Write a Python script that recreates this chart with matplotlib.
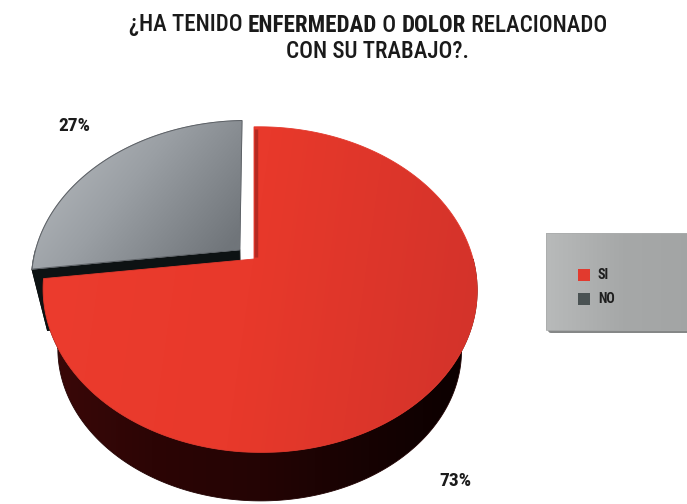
import numpy as np
import matplotlib
matplotlib.use("Agg")
import matplotlib.pyplot as plt
from matplotlib.patches import Polygon, FancyBboxPatch, Rectangle
from matplotlib import font_manager
from matplotlib.colors import to_rgb

# ---------------- data ----------------
categories = ["SI", "NO"]
values = [73, 27]
labels = ["73%", "27%"]
legend_colors = ["#e23a2e", "#4a5253"]
title_line1 = [("¿HA TENIDO ", "medium"), ("ENFERMEDAD", "bold"), (" O ", "medium"),
               ("DOLOR", "bold"), (" RELACIONADO", "medium")]
title_line2 = [("CON SU TRABAJO?.", "medium")]

# ---------------- fonts ----------------
avail = {f.name for f in font_manager.fontManager.ttflist}
FONT = "DejaVu Sans"
for cand in ["Roboto Condensed", "Liberation Sans Narrow", "DejaVu Sans Condensed",
             "Open Sans Condensed", "Roboto", "Liberation Sans"]:
    if cand in avail:
        FONT = cand
        break
plt.rcParams["font.family"] = [FONT, "DejaVu Sans"]

W, H = 687, 504
fig = plt.figure(figsize=(W / 100, H / 100), dpi=100)
ax = fig.add_axes([0, 0, 1, 1])
ax.set_xlim(0, W)
ax.set_ylim(H, 0)
ax.axis("off")

# ---------------- pie geometry (perspective) ----------------
CX, CY = 254.0, 259.0
A, B = 213.0, 157.0
K, KX = 0.188, -0.0277
SB = 0.93        # bottom face shrink (perspective)
DZ = 62.0        # bottom face drop
EXPLODE = [0.0, 0.09]


def proj(X, Y, Z=0.0):
    s = 1.0 / (1.0 + K * Y + KX * X)
    sc = 1.0 - (1.0 - SB) * Z
    return CX + A * X * s * sc, CY - B * Y * s * sc + DZ * Z


def arc(t1, t2, ox, oy, Z=0.0, n=200):
    t = np.linspace(np.radians(t1), np.radians(t2), n)
    x, y = proj(ox + np.cos(t), oy + np.sin(t), Z)
    return np.column_stack([x, y])


def grad_fill(poly_xy, stops, direction, z, edge=True):
    poly = Polygon(poly_xy, closed=True, facecolor="none", edgecolor="none")
    ax.add_patch(poly)
    x0, y0 = poly_xy.min(axis=0)
    x1, y1 = poly_xy.max(axis=0)
    n = 300
    gx, gy = np.meshgrid(np.linspace(0, 1, n), np.linspace(0, 1, n))
    t = np.clip(direction[0] * gx + direction[1] * gy, 0, 1)
    cols = np.array([to_rgb(c) for c in stops])
    pos = np.linspace(0, 1, len(stops))
    img = np.stack([np.interp(t, pos, cols[:, k]) for k in range(3)], axis=-1)
    im = ax.imshow(img, extent=(x0, x1, y1, y0), origin="upper", zorder=z,
                   aspect="auto", interpolation="bilinear")
    im.set_clip_path(poly)
    if edge:
        ax.add_patch(Polygon(poly_xy, closed=True, facecolor="none",
                             edgecolor=cols.mean(axis=0), linewidth=0.6, zorder=z))


total = float(sum(values))
span_grey = 360.0 * values[1] / total

# ---- grey slice (behind, exploded) ----
ga, gb = 90.0, 90.0 + span_grey
mid = np.radians((ga + gb) / 2)
ox, oy = EXPLODE[1] * np.cos(mid), EXPLODE[1] * np.sin(mid)
rx, ry = ox + np.cos(np.radians(gb)), oy + np.sin(np.radians(gb))
cut = [proj(ox, oy, 0), proj(rx, ry, 0), proj(rx, ry, 1), proj(ox, oy, 1)]
ax.add_patch(Polygon(cut, closed=True, facecolor="#0d1213",
                     edgecolor="#0d1213", linewidth=0.8, zorder=2))
wall = np.vstack([arc(180, gb, ox, oy, 0, 30), arc(gb, 180, ox, oy, 1, 30)])
ax.add_patch(Polygon(wall, closed=True, facecolor="#0d1213", edgecolor="#0d1213",
                     linewidth=0.8, zorder=2))
gtop = np.vstack([[proj(ox, oy, 0)], arc(ga, gb, ox, oy, 0, 200)])
grad_fill(gtop, ["#bcc0c4", "#9a9fa4", "#70757a"], (0.7, 0.4), 3)
ax.add_patch(Polygon(gtop, closed=True, facecolor="none", edgecolor="#5d6166",
                     linewidth=0.7, zorder=3))

# ---- red slice ----
ra, rb = gb - 360.0, 90.0
lo, hi = max(ra, -180.0), min(rb, 0.0)
rwall = np.vstack([arc(lo, hi, 0, 0, 0, 300), arc(hi, lo, 0, 0, 1, 300)])
grad_fill(rwall, ["#3c0808", "#2c0505", "#240404", "#160202", "#0a0000"], (1.0, 0.0), 4)
rtop = np.vstack([[proj(0, 0, 0)], arc(ra, rb, 0, 0, 0, 400)])
grad_fill(rtop, ["#ec3c2e", "#e8392b", "#d4332a"], (0.95, 0.1), 5)
# darker strip on the straight edge
ptop, pc = proj(0, 1), proj(0, 0)
ax.plot([ptop[0] + 1.5, pc[0] + 1.5], [ptop[1] + 2, pc[1] - 2],
        color="#b52a22", lw=2.5, zorder=6, solid_capstyle="butt")

# ---------------- percentage labels ----------------
lab_pos = [(455, 481), (74, 126)]
for lbl, (x, y) in zip(labels, lab_pos):
    ax.text(x, y, lbl, ha="center", va="center", fontsize=14, fontweight="bold",
            color="#1b1b1b", zorder=10)

# ---------------- legend ----------------
lx0, ly0, lx1, ly1 = 546, 233, 700, 330
ax.add_patch(FancyBboxPatch((lx0 + 2, ly0 + 3), lx1 - lx0, ly1 - ly0,
                            boxstyle="round,pad=0,rounding_size=3",
                            facecolor="#858787", edgecolor="none", zorder=7))
leg = np.array([[lx0, ly0], [lx1, ly0], [lx1, ly1], [lx0, ly1]], float)
grad_fill(leg, ["#b8baba", "#a6a8a8", "#a2a4a4"], (1.0, 0.0), 8)
for i, (cat, col) in enumerate(zip(categories, legend_colors)):
    yy = 275 + i * 24
    ax.add_patch(Rectangle((578, yy - 6), 12, 12, facecolor=col, edgecolor="none", zorder=9))
    ax.text(598, yy, cat, ha="left", va="center", fontsize=10, fontweight="bold",
            color="#1e1e1e", zorder=9)

# ---------------- title (mixed weights) ----------------
renderer = fig.canvas.get_renderer()


def title_line(parts, cx, base_y, size):
    texts, widths = [], []
    for s, w in parts:
        t = ax.text(0, base_y, s, ha="left", va="baseline", fontsize=size,
                    fontweight=w, color="#1a1a1a", zorder=10)
        texts.append(t)
        widths.append(t.get_window_extent(renderer).width)
    x = cx - sum(widths) / 2
    for t, wdt in zip(texts, widths):
        t.set_x(x)
        x += wdt


title_line(title_line1, 368, 31.5, 16.6)
title_line(title_line2, 377, 57.5, 16.6)

fig.savefig("out.png", dpi=100, facecolor="white")
